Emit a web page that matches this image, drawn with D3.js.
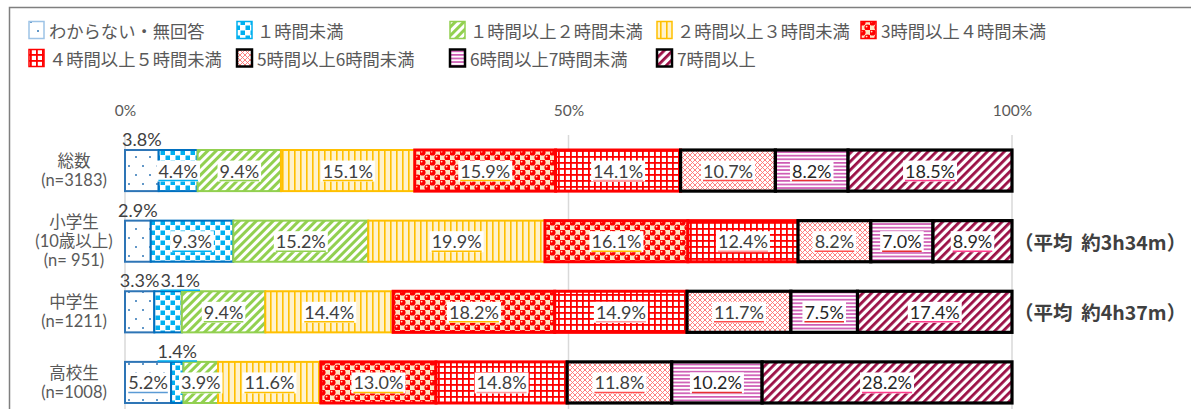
<!DOCTYPE html>
<html><head><meta charset="utf-8">
<script src="https://cdn.jsdelivr.net/npm/d3@7"></script>
<style>body{margin:0;background:#fff}svg{display:block}</style>
</head><body><svg id="c" width="1191" height="409"></svg>
<script>
// ---- data ----
const categories = ["総数", "小学生", "中学生", "高校生"];
const categoryLines = [
  ["総数", "(n=3183)"],
  ["小学生", "(10歳以上)", "(n= 951)"],
  ["中学生", "(n=1211)"],
  ["高校生", "(n=1008)"]
];
const seriesNames = [
  "わからない・無回答", "１時間未満", "１時間以上２時間未満", "２時間以上３時間未満",
  "3時間以上４時間未満", "４時間以上５時間未満", "5時間以上6時間未満", "6時間以上7時間未満", "7時間以上"
];
const totalValues      = [3.8, 4.4, 9.4, 15.1, 15.9, 14.1, 10.7, 8.2, 18.5];
const elementaryValues = [2.9, 9.3, 15.2, 19.9, 16.1, 12.4, 8.2, 7.0, 8.9];
const juniorValues     = [3.3, 3.1, 9.4, 14.4, 18.2, 14.9, 11.7, 7.5, 17.4];
const seniorValues     = [5.2, 1.4, 3.9, 11.6, 13.0, 14.8, 11.8, 10.2, 28.2];
const averageNotes = ["", "（平均  約3h34m）", "（平均  約4h37m）", ""];
const xTicks = [0, 50, 100];

const rows = [totalValues, elementaryValues, juniorValues, seniorValues];

// ---- styles ----
const borderColors = ["#2E75B6", "#0070C0", "#92D050", "#FFC000", "#FF0000", "#FF0000", "#000000", "#000000", "#000000"];
const borderWidths = [2, 2, 2, 2, 3, 3, 3.2, 3.2, 3.2];
const legendBorder = ["#9DC3E6", "#00B0F0", "#92D050", "#FFC000", "#FF0000", "#FF0000", "#000000", "#000000", "#000000"];
const underline = ["#5B9BD5", "#00B0F0", "#92D050", "#FFC000", "#FFC000", "#FF9CA0", "#FF5050", "#E83030", "#FF3C8C"];
const labelColor = ["#404040","#404040","#404040","#404040","#404040","#404040","#404040","#262626","#262626"];
const latinCJK = "Lato, 'Noto Sans CJK JP'";

const svg = d3.select("#c");
const defs = svg.append("defs");

function pat(id, w, h, draw, transform) {
  const p = defs.append("pattern").attr("id", id).attr("patternUnits", "userSpaceOnUse")
    .attr("width", w).attr("height", h);
  if (transform) p.attr("patternTransform", transform);
  draw(p);
}
pat("p0", 14, 18, p => {
  p.append("rect").attr("width", 14).attr("height", 18).attr("fill", "#fff");
  p.append("circle").attr("cx", 3).attr("cy", 4).attr("r", 1).attr("fill", "#2E75B6");
  p.append("circle").attr("cx", 10).attr("cy", 13).attr("r", 1).attr("fill", "#2E75B6");
});
pat("p1", 10, 10, p => {
  p.append("rect").attr("width", 10).attr("height", 10).attr("fill", "#fff");
  p.append("rect").attr("x", 0.5).attr("y", 0.5).attr("width", 4.5).attr("height", 4.5).attr("fill", "#00B0F0");
  p.append("rect").attr("x", 5.5).attr("y", 5.5).attr("width", 4.5).attr("height", 4.5).attr("fill", "#00B0F0");
});
pat("p2", 6, 6, p => {
  p.append("rect").attr("width", 6).attr("height", 6).attr("fill", "#fff");
  p.append("rect").attr("width", 3).attr("height", 6).attr("fill", "#92D050");
}, "rotate(45)");
pat("p3", 6, 6, p => {
  p.append("rect").attr("width", 6).attr("height", 6).attr("fill", "#FFF2CC");
  p.append("rect").attr("width", 1.6).attr("height", 6).attr("fill", "#FFC000");
});
pat("p4", 10, 10, p => {
  p.append("rect").attr("width", 10).attr("height", 10).attr("fill", "#FDE6C6");
  [[2.5, 2.5], [7.5, 7.5]].forEach(([x, y]) => {
    p.append("circle").attr("cx", x).attr("cy", y).attr("r", 3.1).attr("fill", "#FF0000");
    p.append("circle").attr("cx", x - 0.9).attr("cy", y - 0.9).attr("r", 0.9).attr("fill", "#FDE6C6");
  });
});
pat("p5", 6, 6, p => {
  p.append("rect").attr("width", 6).attr("height", 6).attr("fill", "#fff");
  p.append("rect").attr("width", 1.8).attr("height", 6).attr("fill", "#FF0000");
  p.append("rect").attr("width", 6).attr("height", 1.8).attr("fill", "#FF0000");
});
pat("p6", 5, 5, p => {
  p.append("rect").attr("width", 5).attr("height", 5).attr("fill", "#fff");
  p.append("path").attr("d", "M0,0L5,5M5,0L0,5").attr("stroke", "#FF7373").attr("stroke-width", 0.9);
});
pat("p7", 4, 3.6, p => {
  p.append("rect").attr("width", 4).attr("height", 3.6).attr("fill", "#fff");
  p.append("rect").attr("width", 4).attr("height", 1.7).attr("fill", "#CE5BB4");
});
pat("p8", 6, 6, p => {
  p.append("rect").attr("width", 6).attr("height", 6).attr("fill", "#fff");
  p.append("rect").attr("width", 2.8).attr("height", 6).attr("fill", "#9B0F45");
}, "rotate(45)");

// ---- frame ----
svg.append("rect").attr("x", 9.5).attr("y", 7.5).attr("width", 1200).attr("height", 500)
  .attr("fill", "none").attr("stroke", "#7F7F7F").attr("stroke-width", 1.5);

// ---- legend ----
const legCols = [29, 237, 450, 657, 861];
const legRows = [30, 58];
const leg = svg.append("g");
seriesNames.forEach((name, i) => {
  const r = i < 5 ? 0 : 1, c = i < 5 ? i : i - 5;
  const x = legCols[c], y = legRows[r];
  leg.append("rect").attr("x", x).attr("y", y - 8.5).attr("width", 15).attr("height", 17)
    .attr("fill", `url(#p${i})`).attr("stroke", legendBorder[i]).attr("stroke-width", i >= 6 ? 2.5 : 1.5);
  leg.append("text").attr("x", x + 20).attr("y", y).attr("dominant-baseline", "central")
    .attr("font-family", "'Noto Sans CJK JP'").attr("font-size", 17.3).attr("fill", "#595959").text(name);
});

// ---- scales ----
const x = d3.scaleLinear().domain([0, 100]).range([125, 1012]);
const y = d3.scaleBand().domain(categories).range([135.25, 417.75]).paddingInner(0.418).paddingOuter(0.209);

svg.append("g").selectAll("line").data(xTicks).join("line")
  .attr("x1", d => x(d)).attr("x2", d => x(d)).attr("y1", 135).attr("y2", 420)
  .attr("stroke", "#D9D9D9").attr("stroke-width", 1.5);

const ax = svg.append("g").attr("transform", "translate(0,111)")
  .call(d3.axisTop(x).tickValues(xTicks).tickFormat(d => d + "%").tickSize(0));
ax.select(".domain").remove();
ax.selectAll("text").attr("font-family", "Lato").attr("font-size", 15.5).attr("fill", "#595959")
  .attr("dy", "0.35em").attr("y", 0);

// category labels
const catG = svg.append("g");
categories.forEach((c, ci) => {
  const lines = categoryLines[ci];
  const cy = y(c) + y.bandwidth() / 2;
  const lh = 19;
  lines.forEach((ln, k) => {
    catG.append("text").attr("x", 74).attr("y", cy + (k - (lines.length - 1) / 2) * lh)
      .attr("text-anchor", "middle").attr("dominant-baseline", "central")
      .attr("font-family", latinCJK).attr("font-size", 16.5).attr("fill", "#595959").text(ln);
  });
});

// stacked data
const stacks = rows.map((vals, ci) => {
  const sum = d3.sum(vals);
  let acc = 0;
  return vals.map((v, si) => {
    const s = { cat: categories[ci], ci, si, v, x0: acc / sum * 100 };
    acc += v; s.x1 = acc / sum * 100;
    return s;
  });
});
const segs = stacks.flat();

svg.append("g").selectAll("rect").data(segs).join("rect")
  .attr("x", d => x(d.x0)).attr("width", d => x(d.x1) - x(d.x0))
  .attr("y", d => y(d.cat)).attr("height", y.bandwidth())
  .attr("fill", d => `url(#p${d.si})`)
  .attr("stroke", d => borderColors[d.si]).attr("stroke-width", d => borderWidths[d.si]);

// labels
const labG = svg.append("g");
stacks.forEach(row => {
  let lastRight = -Infinity;
  row.forEach(d => {
    const inside = d.v >= 3.85;
    const cx = (x(d.x0) + x(d.x1)) / 2;
    const cy = inside ? y(d.cat) + y.bandwidth() / 2 : y(d.cat) - 11;
    const g = labG.append("g");
    const t = g.append("text").attr("x", cx).attr("y", cy).attr("text-anchor", "middle")
      .attr("dominant-baseline", "central").attr("font-family", "Lato").attr("font-size", 18)
      .attr("fill", labelColor[d.si]).text(d.v.toFixed(1) + "%");
    let bb = t.node().getBBox();
    if (!inside) {
      if (bb.x < lastRight + 1) {
        t.attr("x", cx + lastRight + 1 - bb.x);
        bb = t.node().getBBox();
      }
      lastRight = bb.x + bb.width;
    }
    if (inside) {
      g.insert("rect", "text").attr("x", bb.x - 2).attr("y", bb.y + 1).attr("width", bb.width + 4)
        .attr("height", bb.height - 1).attr("fill", "#fff");
    }
    if (inside || d.si === 1) {
      g.append("line").attr("x1", bb.x).attr("x2", bb.x + bb.width)
        .attr("y1", bb.y + bb.height - 1).attr("y2", bb.y + bb.height - 1)
        .attr("stroke", underline[d.si]).attr("stroke-width", 1.5);
    }
  });
});

// average notes
svg.append("g").selectAll("text").data(categories.map((c, i) => ({ c, t: averageNotes[i] })).filter(d => d.t))
  .join("text").attr("x", 1014).attr("y", d => y(d.c) + y.bandwidth() / 2)
  .attr("dominant-baseline", "central").attr("font-family", "'Noto Sans CJK JP'")
  .attr("font-size", 19.5).attr("font-weight", "bold").attr("fill", "#404040")
  .style("white-space", "pre").text(d => d.t);
</script></body></html>
